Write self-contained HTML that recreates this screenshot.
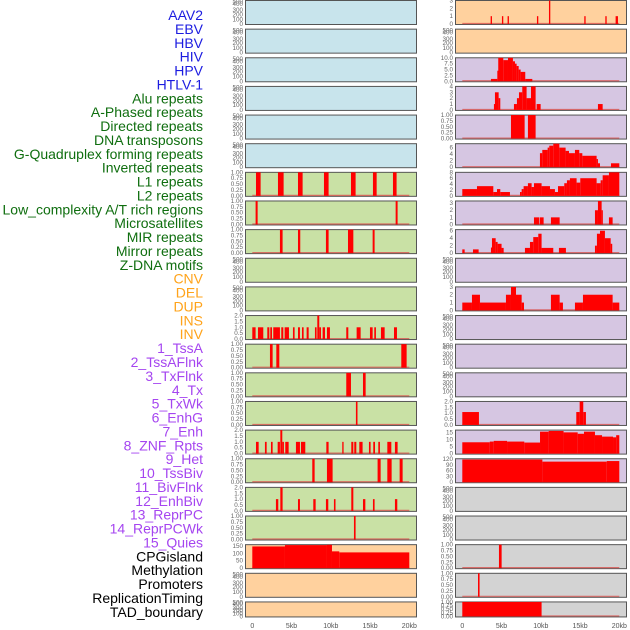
<!DOCTYPE html>
<html><head><meta charset="utf-8"><style>
html,body{margin:0;padding:0;background:#fff;width:630px;height:630px;overflow:hidden}
svg{display:block;font-family:"Liberation Sans",sans-serif}
</style></head><body>
<svg id="chart" width="630" height="630" viewBox="0 0 630 630">
<g id="labels"></g>
<g id="panels"></g>
</svg>
<script>
// ---- data ----
const labelNames = ["AAV2","EBV","HBV","HIV","HPV","HTLV-1","Alu repeats","A-Phased repeats","Directed repeats","DNA transposons","G-Quadruplex forming repeats","Inverted repeats","L1 repeats","L2 repeats","Low_complexity A/T rich regions","Microsatellites","MIR repeats","Mirror repeats","Z-DNA motifs","CNV","DEL","DUP","INS","INV","1_TssA","2_TssAFlnk","3_TxFlnk","4_Tx","5_TxWk","6_EnhG","7_Enh","8_ZNF_Rpts","9_Het","10_TssBiv","11_BivFlnk","12_EnhBiv","13_ReprPC","14_ReprPCWk","15_Quies","CPGisland","Methylation","Promoters","ReplicationTiming","TAD_boundary"];
const labelGroups = [6,13,5,15,5];
const groupColors = ["#1c1ce0","#0f6e0f","#ffa31a","#a545f0","#000000"];
const xTicks = [0,5,10,15,20];
const xTickLabels = ["0","5kb","10kb","15kb","20kb"];
const leftBg = ["b","b","b","b","b","b","g","g","g","g","g","g","g","g","g","g","g","g","g","p","p","p"];
const rightBg = ["p","p","v","v","v","v","v","v","v","v","v","v","v","v","v","v","v","r","r","r","r","r"];
// segments: [startKb, endKb, value]
const leftSegs = [
 [],[],[],[],[],[],
 [[0.47,1.06,1],[3.27,3.99,1],[5.82,6.41,1],[9.13,9.72,1],[12.57,13.16,1],[15.37,15.84,1],[17.92,18.38,1]],
 [[0.42,0.68,1],[18.26,18.51,1]],
 [[3.52,3.86,1],[5.82,6.11,1],[9.38,9.72,1],[12.19,12.87,1],[15.33,15.58,1]],
 [],[],
 [[0,0.42,1],[0.72,1.4,1],[1.91,2.17,1],[2.29,2.51,1],[2.67,3.52,1],[3.69,3.95,1],[4.12,4.67,1],[5.18,5.39,1],[5.82,6.07,1],[6.33,6.54,1],[6.92,7.18,1],[7.98,8.19,1],[8.28,8.53,2],[8.53,8.75,1],[8.96,9.26,1],[9.51,9.89,1],[11.97,12.23,1],[13.29,13.8,1],[14.99,15.33,1],[15.54,15.75,1],[16.39,16.86,1],[18.05,18.43,1]],
 [[2.25,2.59,1],[3.06,3.44,1],[18.98,19.66,1]],
 [[11.97,12.57,1],[14.1,14.44,1]],
 [[13.2,13.4,1]],
 [[0.47,0.81,1],[1.61,1.83,1],[2.38,2.59,1],[3.23,3.52,1],[3.57,3.82,2],[3.82,4.03,1],[4.2,4.63,1],[5.56,6.07,1],[6.2,6.75,1],[9.43,9.72,1],[11.46,11.63,1],[12.61,12.87,1],[12.99,13.25,1],[13.63,14.05,1],[14.86,15.07,1],[15.41,15.63,1],[16.05,16.26,1],[17.2,17.71,1],[18.17,18.51,1]],
 [[7.64,7.94,1],[9.51,10.23,1],[15.96,16.35,1],[17.2,17.75,1],[18.77,19.15,1]],
 [[3.01,3.31,1],[3.57,3.86,2],[5.82,6.07,1],[7.77,8.07,1],[9.38,9.68,1],[10.4,10.6,1],[12.61,12.87,2],[14.1,14.4,1],[15.37,15.58,1],[18.17,18.47,1]],
 [[12.95,13.16,1]],
 [[0,4.16,146],[4.16,9.51,155],[9.51,10.15,157],[10.15,11.08,113],[11.08,20,106]],
 [],[]
];
const rightSegs = [
 [[3.61,3.78,1],[5.05,5.22,1],[5.77,5.94,1],[9.51,9.68,1],[11.04,11.21,3],[15.54,15.71,1],[18.22,18.39,1],[19.53,19.83,1]],
 [],
 [[3.65,4.46,1],[4.46,4.58,4.5],[4.58,5.22,10],[5.22,5.82,9],[5.82,6.45,10],[6.45,6.71,8.5],[6.71,6.92,7.5],[6.92,7.18,6.5],[7.18,7.43,5],[7.43,8.02,4],[8.02,8.92,1]],
 [[4.03,4.16,1],[4.16,4.63,3],[4.63,4.84,2],[6.58,6.96,1],[6.96,7.22,2],[7.22,7.64,3],[7.64,8.19,4],[8.19,8.75,2],[8.75,9.34,4],[9.47,9.98,1],[17.28,17.88,1]],
 [[6.2,7.94,1],[8.36,9.34,1]],
 [[9.89,10.19,4.3],[10.19,10.87,5.3],[10.87,11.08,6],[11.08,11.59,6.6],[11.59,12.36,7.2],[12.36,13.16,6],[13.16,13.59,5],[13.59,14.35,4.3],[14.35,14.9,5.3],[14.9,15.29,4.3],[15.29,17.11,3.5],[17.11,17.28,2.5],[17.28,17.54,1.2],[18.94,20,1.2]],
 [[0,1.87,2.3],[1.87,3.95,3.3],[3.95,4.42,1.3],[4.42,4.84,2.3],[4.84,6.07,1.3],[7.35,7.56,1.3],[7.56,7.81,2.3],[7.81,8.36,3.3],[8.36,8.83,4.3],[8.83,9.13,3],[9.13,10.1,4.3],[10.1,11.17,3.3],[11.17,11.8,2.3],[11.8,12.19,1.3],[12.19,12.99,3.3],[12.99,13.33,4.3],[13.33,13.71,5.3],[13.71,14.56,6],[14.56,15.03,4.5],[15.03,17.11,6],[17.11,17.62,4.3],[17.62,17.88,5.3],[17.88,18.68,7],[18.68,20,8]],
 [[9.13,9.77,1],[9.85,10.36,1],[11.29,12.4,1],[16.9,17.28,2],[17.28,17.75,3.3],[17.75,17.88,2],[18.68,19.15,1]],
 [[0,0.3,1],[1.36,2.08,1],[3.65,3.78,1.5],[3.78,4.25,4],[4.25,4.5,3],[4.5,5.0,2.5],[5.0,5.27,1.4],[7.98,8.62,1.4],[8.62,9.04,3],[9.04,9.68,4.3],[9.68,10.1,5.2],[10.1,11.59,1.4],[12.31,13.2,1.4],[16.9,17.15,2],[17.15,17.54,5.2],[17.54,18.17,6],[18.17,18.9,4],[18.9,19.1,2.5]],
 [],
 [[0,1.23,1],[1.23,2.25,2],[2.25,5.56,1],[5.56,6.2,2],[6.2,6.84,3],[6.84,7.56,2],[7.56,7.86,1],[11.29,12.4,2],[12.4,12.82,1],[14.35,15.37,1],[15.37,19.15,2],[19.15,20,1]],
 [],[],[],
 [[0,2.12,1.1],[14.52,14.95,1.1],[14.95,15.41,2],[15.41,15.75,1.1]],
 [[0,3.5,8],[3.5,4.0,8.5],[4.0,5.7,9],[5.7,7.9,8.5],[7.9,9.9,7.8],[9.9,11.0,15.5],[11.0,12.9,16],[12.9,14.7,15],[14.7,15.5,14],[15.5,16.9,15.5],[16.9,17.8,13],[17.8,19.2,12],[19.2,19.6,11.5],[19.6,20,13]],
 [[0,10.2,118],[10.2,18.4,107],[18.4,20,110]],
 [],[],
 [[4.67,5.01,1]],
 [[2.0,2.2,1]],
 [[0,10.1,1]]
];
// y axis: [yMax, tick labels, tick values]
const emptyAxis = [500,["500","400","300","200","100","0"],[475,425,295,205,100,0]];
const oneAxis = [1,["1.00","0.75","0.50","0.25","0.00"],[1,0.75,0.5,0.25,0]];
const twoAxis = [2,["2.0","1.5","1.0","0.5","0.0"],[2,1.5,1,0.5,0]];
const leftAxes = [emptyAxis,emptyAxis,emptyAxis,emptyAxis,emptyAxis,emptyAxis,oneAxis,oneAxis,oneAxis,emptyAxis,emptyAxis,twoAxis,oneAxis,oneAxis,oneAxis,twoAxis,oneAxis,twoAxis,oneAxis,
 [158,["150","100","50","0"],[150,100,50,0]],emptyAxis,emptyAxis];
const rightAxes = [[3,["3","2","1","0"],[3,2,1,0]],emptyAxis,
 [10,["10.0","7.5","5.0","2.5","0.0"],[10,7.5,5,2.5,0]],
 [4,["4","3","2","1","0"],[4,3,2,1,0]],oneAxis,
 [7.2,["6","4","2","0"],[6,4,2,0]],
 [8,["8","6","4","2","0"],[8,6,4,2,0]],
 [3.3,["3","2","1","0"],[3,2,1,0]],
 [6.3,["6","4","2","0"],[6,4,2,0]],
 emptyAxis,[3,["3","2","1","0"],[3,2,1,0]],emptyAxis,emptyAxis,emptyAxis,twoAxis,
 [16.6,["15","10","5","0"],[15,10,5,0]],
 [122,["120","90","60","30","0"],[120,90,60,30,0]],
 emptyAxis,emptyAxis,oneAxis,oneAxis,oneAxis];

// ---- drawing ----
const NS="http://www.w3.org/2000/svg";
const bgColors={b:"#c8e4ec",g:"#c9e1a5",p:"#ffd19e",v:"#d6c6e2",r:"#d3d3d3"};
function mk(tag,attrs,parent){const e=document.createElementNS(NS,tag);for(const k in attrs)e.setAttribute(k,attrs[k]);parent.appendChild(e);return e;}
const labelsG=document.getElementById('labels');
let gi=0,cnt=0;
labelNames.forEach((n,i)=>{
  while(cnt>=labelGroups[gi]){cnt=0;gi++;}
  cnt++;
  const t=mk('text',{x:203,y:20+i*13.88,'text-anchor':'end','font-size':'14',fill:groupColors[gi]},labelsG);
  t.textContent=n;
  
  
});
const panelsG=document.getElementById('panels');
function xScale(x0,kb){return x0+7.3+kb/20*157;}
function drawCol(x0,bgs,segs,axes,side){
  for(let i=0;i<22;i++){
    const top=i*28.64, h=(i===21)?15:24;
    const g=mk('g',{},panelsG);
    
    
    const r=mk('rect',{x:x0+0.5,y:top+0.5,width:171,height:h,fill:bgColors[bgs[i]],stroke:'#555',"stroke-width":1},g);
    
    
    const ax=axes[i], yMax=ax[0];
    const yS=v=>top+h-(v/yMax)*(h-0.5);
    ax[1].forEach((lab,k)=>{
      const t=mk('text',{x:x0-2,y:yS(ax[2][k])+2,'text-anchor':'end','font-size':'6.3',fill:'#666'},g);
      t.textContent=lab;
      
      
    });
    if(segs[i].length){
      const bl=mk('line',{x1:xScale(x0,0),x2:xScale(x0,20),y1:top+h-0.5,y2:top+h-0.5,stroke:'#d9534f','stroke-width':1.2,opacity:0.8},g);
      
      
    }
    segs[i].forEach(s=>{
      const xa=xScale(x0,s[0]), xb=xScale(x0,s[1]);
      const y=yS(s[2]);
      const b=mk('rect',{x:xa,y:y,width:Math.max(1.2,xb-xa),height:top+h-y,fill:'#ff0000'},g);
      
      
    });
  }
  xTicks.forEach((v,k)=>{
    const t=mk('text',{x:xScale(x0,v),y:628,'text-anchor':'middle','font-size':'7','fill':'#555'},panelsG);
    t.textContent=xTickLabels[k];
    
    
  });
}
drawCol(245,leftBg,leftSegs,leftAxes,'left');
drawCol(455,rightBg,rightSegs,rightAxes,'right');
</script>
</body></html>
